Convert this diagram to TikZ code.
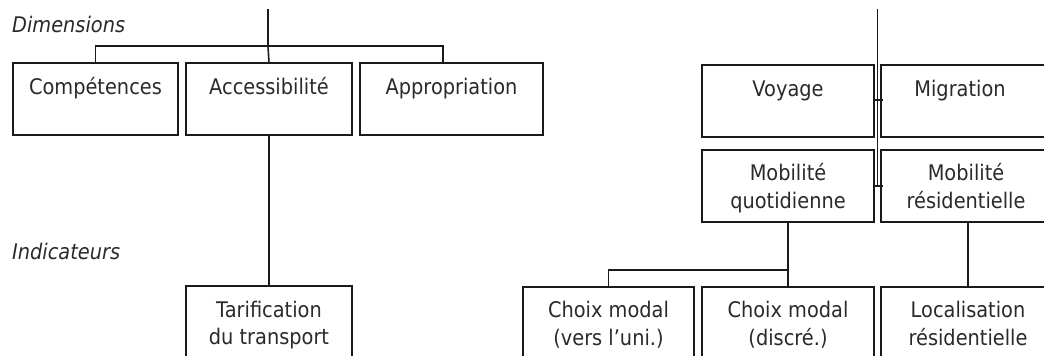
\documentclass[tikz,border=0pt]{standalone}
\usepackage{fontspec}
\setmainfont{DejaVu Sans}[FakeStretch=0.9]
\definecolor{ink}{HTML}{1A1A1A}
\definecolor{txtc}{HTML}{2A2A2A}
\tikzset{
  box/.style={draw=ink, line width=1.5pt, inner sep=0pt, outer sep=0pt},
  txt/.style={text=txtc, font=\fontsize{21.5}{27.5}\selectfont, align=center, inner sep=0pt, anchor=base},
  lbl/.style={text=txtc, font=\fontsize{21.5}{27.5}\selectfont\itshape, inner sep=0pt, anchor=base west},
  conn/.style={draw=ink, line width=1.6pt},
}
\begin{document}
\begin{tikzpicture}[x=1pt,y=-1pt]
\useasboundingbox (0,0) rectangle (1044,356);
\fill[white] (0,0) rectangle (1044,356);
\clip (0,0) rectangle (1044,356);
% labels
\node[lbl] (dim) at (12,32) {Dimensions};
\node[lbl] (ind) at (12,259) {Indicateurs};
% left boxes
\node[box, minimum width=165pt, minimum height=72pt] (comp) at (95.5,99) {};
\node[box, minimum width=166pt, minimum height=72pt] (acc) at (269,99) {};
\node[box, minimum width=183pt, minimum height=72pt] (appr) at (451.5,99) {};
\node[box, minimum width=166pt, minimum height=84pt] (tarif) at (269,328) {};
\node[txt] (compT) at (95.5,94) {Compétences};
\node[txt] (accT) at (269,94) {Accessibilité};
\node[txt] (apprT) at (451.5,94) {Appropriation};
\node[txt] (tarifT) at (269,344.5) {Tarification\\du transport};
% right boxes
\node[box, minimum width=172pt, minimum height=72pt] (voy) at (788,101) {};
\node[box, minimum width=174pt, minimum height=72pt] (migr) at (968,101) {};
\node[box, minimum width=172pt, minimum height=72pt] (mq) at (788,186) {};
\node[box, minimum width=174pt, minimum height=72pt] (mr) at (968,186) {};
\node[box, minimum width=171pt, minimum height=84pt] (cm1) at (608.5,329) {};
\node[box, minimum width=172pt, minimum height=84pt] (cm2) at (788,329) {};
\node[box, minimum width=174pt, minimum height=84pt] (loc) at (968,329) {};
\node[txt] (voyT) at (788,96) {Voyage};
\node[txt] (migrT) at (960,96) {Migration};
\node[txt] (mqT) at (788,208) {Mobilité\\quotidienne};
\node[txt] (mrT) at (966,208) {Mobilité\\résidentielle};
\node[txt] (cm1T) at (608.5,345) {Choix modal\\(vers l’uni.)};
\node[txt] (cm2T) at (788,345) {Choix modal\\(discré.)};
\node[txt] (locT) at (968,345) {Localisation\\résidentielle};
% left connectors
\coordinate (topL) at (268,9);
\coordinate (jL) at (268,46);
\coordinate (aprIn) at (443,63);
\draw[conn] (topL) -- (jL);
\draw[conn] (comp.north) |- (jL) -| (aprIn);
\draw[conn] (jL) -- (acc.north);
\draw[conn] (acc.south) -- (tarif.north);
% right connectors
\coordinate (topR) at (877.5,9);
\coordinate (botR) at (877.5,186);
\coordinate (t1a) at (875,100);
\coordinate (t1b) at (883,100);
\coordinate (t2a) at (875,186);
\coordinate (t2b) at (883,186);
\draw[conn] (topR) -- (botR);
\draw[conn] (t1a) -- (t1b);
\draw[conn] (t2a) -- (t2b);
\coordinate (jR) at (788,270);
\draw[conn] (mq.south) -- (jR);
\draw[conn] (cm1.north) |- (jR) -- (cm2.north);
\draw[conn] (mr.south) -- (loc.north);
\end{tikzpicture}
\end{document}
